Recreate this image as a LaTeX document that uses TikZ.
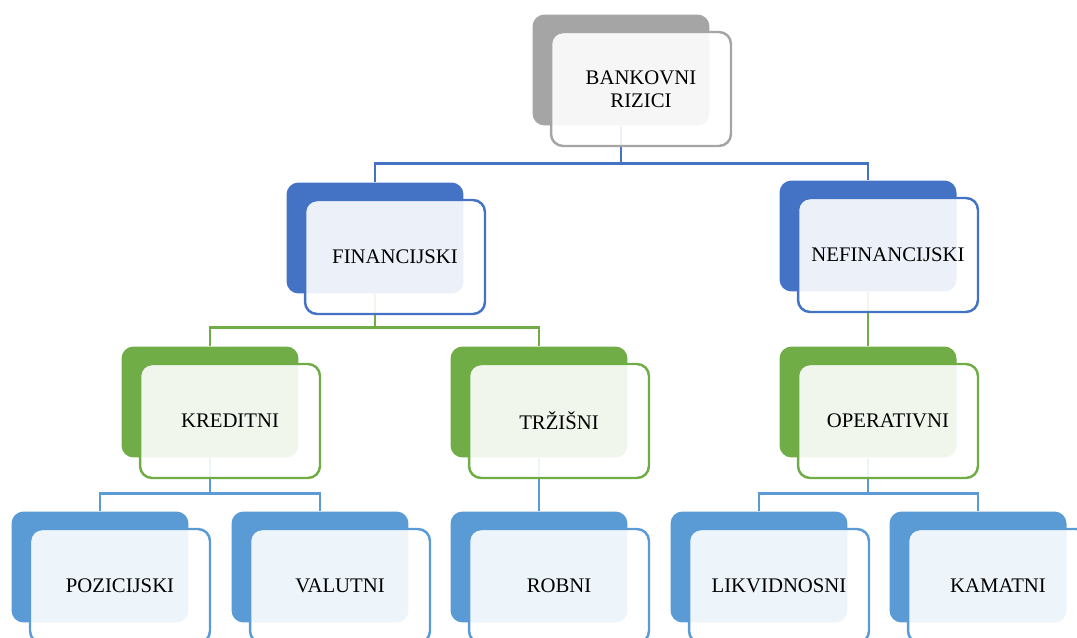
\documentclass[tikz,border=0pt]{standalone}
\usepackage{fontspec}
\setmainfont{Liberation Serif}
\definecolor{rizgray}{HTML}{A5A5A5}
\definecolor{rizblue}{HTML}{4472C4}
\definecolor{rizgreen}{HTML}{70AD47}
\definecolor{rizsky}{HTML}{5B9BD5}
\tikzset{
  backbox/.style={rounded corners=0.24cm, minimum width=3.54cm, minimum height=2.22cm, inner sep=0pt},
  frontbox/.style={draw, line width=1.4pt, rounded corners=0.24cm, fill=white, fill opacity=0.9, text opacity=1,
    minimum width=3.6cm, minimum height=2.28cm, inner sep=0pt, align=center,
    font=\fontsize{11.8}{13}\selectfont},
  link/.style={line width=1.6pt}
}
\begin{document}
\begin{tikzpicture}[x=0.02cm, y=-0.02cm]
\useasboundingbox (0,0) rectangle (1077,638);
% back boxes
\node[backbox, fill=rizgray] (bankB) at (621,70) {};
\node[backbox, fill=rizblue] (finB) at (375,238) {};
\node[backbox, fill=rizblue] (nefB) at (868,236) {};
\node[backbox, fill=rizgreen] (kreB) at (210,402) {};
\node[backbox, fill=rizgreen] (trzB) at (539,402) {};
\node[backbox, fill=rizgreen] (opeB) at (868,402) {};
\node[backbox, fill=rizsky] (pozB) at (100,567) {};
\node[backbox, fill=rizsky] (valB) at (320,567) {};
\node[backbox, fill=rizsky] (robB) at (539,567) {};
\node[backbox, fill=rizsky] (likB) at (759,567) {};
\node[backbox, fill=rizsky] (kamB) at (978,567) {};
% connectors
\draw[link, rizblue] (bankB.south) -- ++(0,38) -| (finB.north);
\draw[link, rizblue] (bankB.south) -- ++(0,38) -| (nefB.north);
\draw[link, rizgreen] (finB.south) -- ++(0,34) -| (kreB.north);
\draw[link, rizgreen] (finB.south) -- ++(0,34) -| (trzB.north);
\draw[link, rizgreen] (nefB.south) -- (opeB.north);
\draw[link, rizsky] (kreB.south) -- ++(0,36) -| (pozB.north);
\draw[link, rizsky] (kreB.south) -- ++(0,36) -| (valB.north);
\draw[link, rizsky] (trzB.south) -- (robB.north);
\draw[link, rizsky] (opeB.south) -- ++(0,36) -| (likB.north);
\draw[link, rizsky] (opeB.south) -- ++(0,36) -| (kamB.north);
% front boxes
\node[frontbox, draw=rizgray] (bank) at ([shift={(20,19)}]bankB.center) {BANKOVNI\\RIZICI};
\node[frontbox, draw=rizblue] (fin) at ([shift={(20,19)}]finB.center) {FINANCIJSKI};
\node[frontbox, draw=rizblue] (nef) at ([shift={(20,19)}]nefB.center) {NEFINANCIJSKI};
\node[frontbox, draw=rizgreen] (kre) at ([shift={(20,19)}]kreB.center) {KREDITNI};
\node[frontbox, draw=rizgreen] (trz) at ([shift={(20,19)}]trzB.center) {TRŽIŠNI};
\node[frontbox, draw=rizgreen] (ope) at ([shift={(20,19)}]opeB.center) {OPERATIVNI};
\node[frontbox, draw=rizsky] (poz) at ([shift={(20,19)}]pozB.center) {POZICIJSKI};
\node[frontbox, draw=rizsky] (val) at ([shift={(20,19)}]valB.center) {VALUTNI};
\node[frontbox, draw=rizsky] (rob) at ([shift={(20,19)}]robB.center) {ROBNI};
\node[frontbox, draw=rizsky] (lik) at ([shift={(20,19)}]likB.center) {LIKVIDNOSNI};
\node[frontbox, draw=rizsky] (kam) at ([shift={(20,19)}]kamB.center) {KAMATNI};
\end{tikzpicture}
\end{document}
